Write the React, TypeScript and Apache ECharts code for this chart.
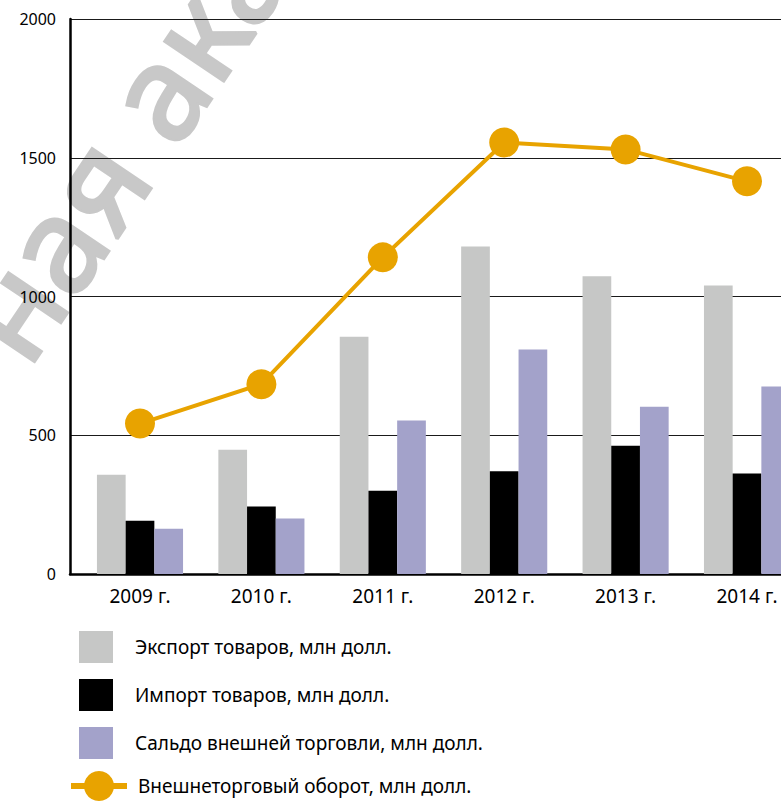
import React, { useEffect, useRef } from 'react';
import * as echarts from 'echarts';

const years = ['2009 г.', '2010 г.', '2011 г.', '2012 г.', '2013 г.', '2014 г.'];
const exportValues = [358, 448, 855, 1180, 1073, 1040];
const importValues = [192, 243, 300, 370, 462, 362];
const balanceValues = [163, 200, 553, 809, 603, 676];
const turnoverValues = [542, 684, 1141, 1555, 1530, 1415];
const seriesNames = [
  'Экспорт товаров, млн долл.',
  'Импорт товаров, млн долл.',
  'Сальдо внешней торговли, млн долл.',
  'Внешнеторговый оборот, млн долл.',
];
const watermarkText = 'ная академия';

const FONT = 'Noto Sans';

export default function App() {
  const ref = useRef<HTMLDivElement>(null);
  useEffect(() => {
    if (!ref.current) return;
    const chart = echarts.init(ref.current, undefined, { renderer: 'svg' });
    const idx = years.map((_, i) => i);
    const pairs = (arr: number[]) => arr.map((v, i) => [idx[i], v]);
    const barCommon = { type: 'bar', barWidth: 28.7, barGap: '0%', z: 2 };
    chart.setOption({
      animation: false,
      textStyle: { fontFamily: FONT },
      grid: { left: 70, right: 0, top: 19, bottom: 230, containLabel: false, outerBoundsMode: 'none' },
      graphic: {
        elements: [
          {
            type: 'text',
            x: -14,
            y: 342,
            rotation: (56 * Math.PI) / 180,
            z: -1,
            silent: true,
            style: {
              text: watermarkText,
              fontSize: 132,
              fontWeight: 'normal',
              fontFamily: FONT,
              fill: '#c8c8c8',
              stroke: '#c8c8c8',
              lineWidth: 3.5,
              textAlign: 'left',
              textVerticalAlign: 'middle',
            },
          },
        ],
      },
      legend: [
        {
          data: seriesNames.slice(0, 3),
          orient: 'vertical',
          left: 79,
          top: 631,
          icon: 'rect',
          itemWidth: 34,
          itemHeight: 32,
          itemGap: 16,
          padding: 0,
          textStyle: { fontSize: 19, color: '#000', fontFamily: FONT, padding: [0, 0, 0, 17] },
        },
        {
          data: [seriesNames[3]],
          orient: 'vertical',
          left: 68,
          top: 771,
          itemWidth: 56,
          itemHeight: 37.5,
          padding: 0,
          lineStyle: { width: 6 },
          textStyle: { fontSize: 19, color: '#000', fontFamily: FONT, padding: [0, 0, 0, 6] },
        },
      ],
      xAxis: {
        type: 'value',
        min: -0.5766,
        max: 5.28,
        axisLine: { show: true, onZero: false, lineStyle: { color: '#000', width: 2.5 } },
        axisTick: { show: false },
        splitLine: { show: false },
        axisLabel: {
          customValues: idx,
          formatter: (v: number) => years[Math.round(v)] ?? '',
          fontSize: 19,
          color: '#000',
          margin: 12,
          fontFamily: FONT,
        },
      },
      yAxis: {
        type: 'value',
        min: 0,
        max: 2000,
        interval: 500,
        axisLine: { show: true, onZero: false, lineStyle: { color: '#000', width: 2.5 } },
        axisTick: { show: false },
        splitLine: { show: true, lineStyle: { color: '#1a1a1a', width: 1 } },
        axisLabel: {
          fontSize: 16,
          color: '#000',
          margin: 14,
          fontFamily: FONT,
          formatter: (v: number) => String(v),
        },
      },
      series: [
        { ...barCommon, name: seriesNames[0], data: pairs(exportValues), itemStyle: { color: '#c6c7c6' } },
        { ...barCommon, name: seriesNames[1], data: pairs(importValues), itemStyle: { color: '#000000' } },
        { ...barCommon, name: seriesNames[2], data: pairs(balanceValues), itemStyle: { color: '#a3a2ca' } },
        {
          type: 'line',
          name: seriesNames[3],
          data: pairs(turnoverValues),
          symbol: 'circle',
          symbolSize: 30,
          z: 3,
          lineStyle: { color: '#e8a300', width: 4 },
          itemStyle: { color: '#e8a300' },
        },
      ],
    });
    return () => chart.dispose();
  }, []);
  return (
    <div
      ref={ref}
      style={{ position: 'absolute', left: 0, top: 0, width: 781, height: 804 }}
    />
  );
}
